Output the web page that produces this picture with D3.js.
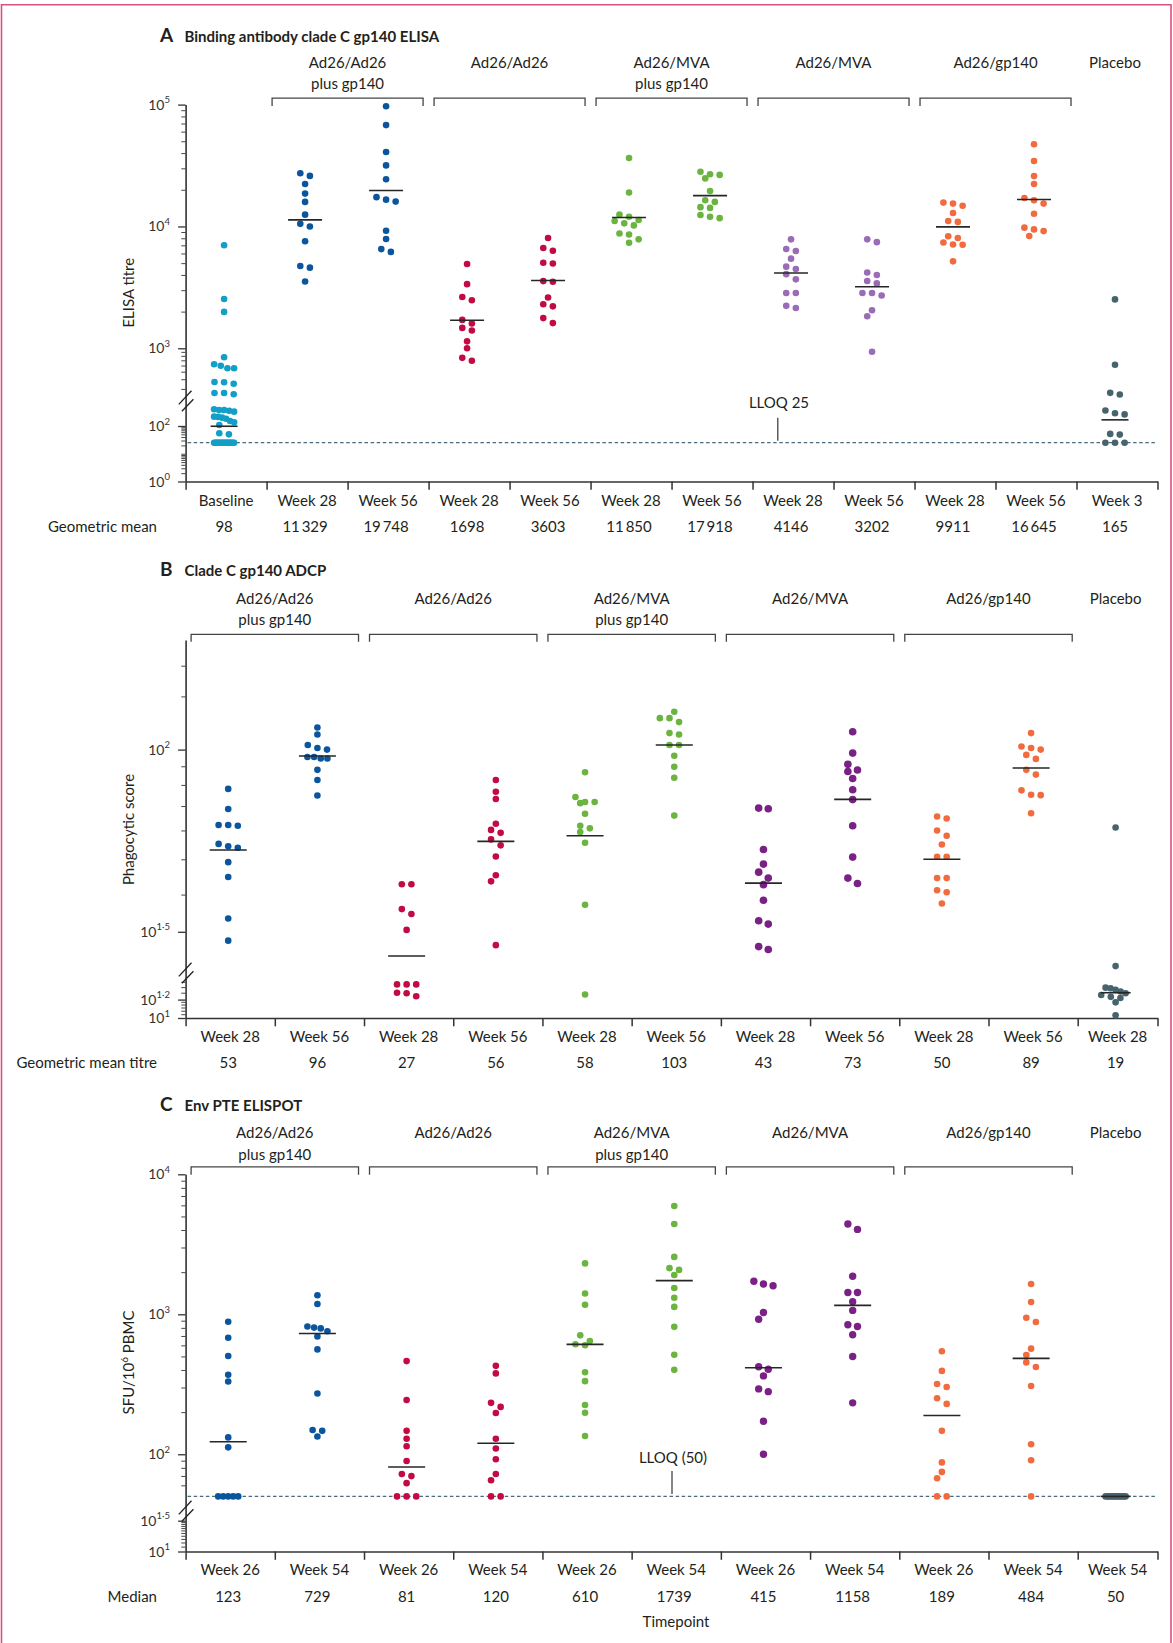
<!DOCTYPE html>
<html>
<head>
<meta charset="utf-8">
<script src="https://cdn.jsdelivr.net/npm/d3@7"></script>
<style>
  body { margin: 0; background: #fff; }
  svg { display: block; font-family: Lato, "Open Sans", sans-serif; }
</style>
</head>
<body>
<svg id="chart" width="1173" height="1643"></svg>
<script>
// ================= DATA =================
const groupNames = [["Ad26/Ad26", "plus gp140"], ["Ad26/Ad26"], ["Ad26/MVA", "plus gp140"], ["Ad26/MVA"], ["Ad26/gp140"]];
const placeboName = "Placebo";

// ---- Panel A: Binding antibody clade C gp140 ELISA (ELISA titre) ----
const categoriesA = ["Baseline", "Week 28", "Week 56", "Week 28", "Week 56", "Week 28", "Week 56", "Week 28", "Week 56", "Week 28", "Week 56", "Week 3"];
const a_baseline = [7000, 2540, 1990, 766, 622, 553, 553, 597, 368, 350, 365, 266, 256, 266,
  164, 161, 161, 157, 153, 132, 131, 128, 124, 116, 112, 103, 55, 50,
  25, 25, 25, 25, 25, 25, 25, 25, 25, 25, 25, 25, 25, 25, 25, 25, 25, 25, 25, 25];
const a_aag_w28 = [27300, 26000, 22300, 18600, 15900, 12500, 10500, 10000, 7570, 4730, 4590, 3530];
const a_aag_w56 = [97000, 67900, 40800, 31700, 24400, 17400, 16600, 16000, 9220, 7890, 6520, 6180];
const a_aa_w28 = [4920, 3360, 2640, 2480, 1710, 1600, 1470, 1400, 1140, 1000, 754, 693];
const a_aa_w56 = [8040, 6660, 6320, 5040, 4970, 3560, 3520, 2610, 2300, 2210, 1770, 1610];
const a_amg_w28 = [36500, 19000, 12500, 12000, 11300, 11100, 10600, 10200, 8750, 8580, 7840, 7340];
const a_amg_w56 = [28100, 26800, 26500, 24800, 19500, 16400, 15900, 14400, 14200, 12400, 12000, 11700];
const a_am_w28 = [7840, 6530, 6280, 5440, 4680, 4480, 4060, 3680, 2840, 2840, 2230, 2140];
const a_am_w56 = [7840, 7430, 4190, 4000, 3570, 3410, 2840, 2840, 2710, 2050, 1830, 904];
const a_ag_w28 = [15700, 15400, 14800, 12900, 11100, 10900, 8300, 8040, 7390, 7100, 7060, 5170];
const a_ag_w56 = [47300, 34400, 25900, 22300, 17100, 16400, 15400, 12700, 9780, 9460, 9160, 8360];
const a_placebo = [2520, 615, 267, 254, 158, 146, 141, 52, 49, 25, 25, 25];
const seriesA = [a_baseline, a_aag_w28, a_aag_w56, a_aa_w28, a_aa_w56, a_amg_w28, a_amg_w56, a_am_w28, a_am_w56, a_ag_w28, a_ag_w56, a_placebo];
const statLabelsA = ["98", "11\u2009329", "19\u2009748", "1698", "3603", "11\u2009850", "17\u2009918", "4146", "3202", "9911", "16\u2009645", "165"];
const statLinesA = [98, 11329, 19748, 1698, 3603, 11850, 17918, 4146, 3202, 9911, 16645, 120];
const yTicksA = [1, 100, 1000, 10000, 100000];
const yTickLabelsA = [["10", "0"], ["10", "2"], ["10", "3"], ["10", "4"], ["10", "5"]];
const yMinorA = [2, 3, 4, 5, 6, 7, 8, 9, 10, 20, 30, 40, 50, 60, 70, 80, 90, 300, 400, 500, 600, 700, 800, 900,
  2000, 3000, 4000, 5000, 6000, 7000, 8000, 9000, 20000, 30000, 40000, 50000, 60000, 70000, 80000, 90000];
const lloqA = 25;

// ---- Panel B: Clade C gp140 ADCP (Phagocytic score) ----
const categoriesB = ["Week 28", "Week 56", "Week 28", "Week 56", "Week 28", "Week 56", "Week 28", "Week 56", "Week 28", "Week 56", "Week 28"];
const b_aag_w28 = [78.0, 68.7, 62.1, 62.1, 61.8, 55.1, 54.3, 53.8, 49.1, 44.7, 34.4, 28.9];
const b_aag_w56 = [115, 110, 103, 101, 100, 95.4, 95.4, 94.5, 94.5, 88.0, 82.5, 74.8];
const b_aa_w28 = [42.7, 42.7, 36.5, 35.4, 32.0, 18.5, 18.5, 18.5, 17.0, 16.9, 16.4];
const b_aa_w56 = [82.5, 76.6, 73.2, 62.6, 60.2, 59.1, 56.7, 54.6, 50.9, 45.2, 43.5, 27.6];
const b_amg_w28 = [86.7, 74.1, 71.8, 71.8, 71.3, 66.7, 61.8, 60.8, 59.4, 55.5, 37.5, 16.7];
const b_amg_w56 = [127, 122, 122, 119, 111, 110, 103, 103, 96.2, 89.7, 83.7, 65.9];
const b_am_w28 = [69.1, 68.8, 53.2, 48.5, 46.1, 44.4, 42.6, 38.6, 33.9, 33.2, 27.2, 26.4];
const b_am_w56 = [112, 97.8, 91.1, 87.9, 87.1, 83.3, 77.6, 72.9, 61.8, 50.7, 44.4, 42.9];
const b_ag_w28 = [65.5, 64.7, 60.0, 58.0, 54.9, 50.8, 50.8, 44.4, 44.4, 41.1, 40.6, 37.8];
const b_ag_w56 = [111, 102, 101, 100, 96.7, 94.3, 88.0, 85.4, 77.3, 75.2, 75.0, 66.9];
const b_placebo = [61.1, 22.3, 17.9, 17.8, 17.5, 17.2, 16.9, 16.6, 16.3, 16.1, 14.8, 10.7];
const seriesB = [b_aag_w28, b_aag_w56, b_aa_w28, b_aa_w56, b_amg_w28, b_amg_w56, b_am_w28, b_am_w56, b_ag_w28, b_ag_w56, b_placebo];
const statLabelsB = ["53", "96", "27", "56", "58", "103", "43", "73", "50", "89", "19"];
const statLinesB = [53, 96, 24.7, 56, 58, 103, 43, 73, 50, 89, 17];
const yTicksB = [10, Math.pow(10, 1.2), Math.pow(10, 1.5), 100];
const yTickLabelsB = [["10", "1"], ["10", "1\u00b72"], ["10", "1\u00b75"], ["10", "2"]];
const yMinorB = [11, 12, 13, 14, 15, 17, 18, 19, 40, 50, 60, 70, 80, 90, 140, 170];

// ---- Panel C: Env PTE ELISPOT (SFU/10^6 PBMC) ----
const categoriesC = ["Week 26", "Week 54", "Week 26", "Week 54", "Week 26", "Week 54", "Week 26", "Week 54", "Week 26", "Week 54", "Week 54"];
const c_aag_w26 = [885, 679, 503, 370, 331, 132, 112, 50, 50, 50, 50, 50];
const c_aag_w54 = [1368, 1183, 817, 803, 793, 757, 695, 561, 272, 149, 147, 134];
const c_aa_w26 = [463, 244, 147, 129, 114, 89.6, 72.3, 69.8, 62.2, 50, 50, 50];
const c_aa_w54 = [428, 378, 233, 218, 197, 129, 110, 92.2, 72.3, 65.2, 50, 50];
const c_amg_w26 = [2310, 1406, 1169, 707, 644, 611, 601, 385, 333, 225, 198, 135];
const c_amg_w54 = [5940, 4420, 2570, 2135, 2075, 1910, 1542, 1312, 1129, 813, 514, 401];
const c_am_w26 = [1723, 1645, 1598, 1030, 922, 422, 405, 363, 293, 280, 172, 100];
const c_am_w54 = [4420, 4040, 1868, 1431, 1431, 1231, 1066, 841, 817, 715, 499, 233];
const c_ag_w26 = [545, 394, 318, 302, 251, 229, 147, 87.5, 74.8, 67.4, 50, 50];
const c_ag_w54 = [1645, 1225, 944, 881, 568, 512, 453, 420, 307, 118, 90.6, 50];
const c_placebo = [50, 50, 50, 50, 50, 50, 50, 50, 50, 50, 50, 50];
const seriesC = [c_aag_w26, c_aag_w54, c_aa_w26, c_aa_w54, c_amg_w26, c_amg_w54, c_am_w26, c_am_w54, c_ag_w26, c_ag_w54, c_placebo];
const statLabelsC = ["123", "729", "81", "120", "610", "1739", "415", "1158", "189", "484", "50"];
const statLinesC = [123, 729, 81, 120, 610, 1739, 415, 1158, 189, 484, 50];
const yTicksC = [10, Math.pow(10, 1.5), 100, 1000, 10000];
const yTickLabelsC = [["10", "1"], ["10", "1\u00b75"], ["10", "2"], ["10", "3"], ["10", "4"]];
const yMinorC = [12, 14, 16, 18, 20, 22, 24, 26, 28, 30,
  60, 70, 80, 90, 200, 300, 400, 500, 600, 700, 800, 900, 2000, 3000, 4000, 5000, 6000, 7000, 8000, 9000];
const lloqC = 50;

// ================= STYLE =================
const cCyan = "#129fc7", cBlue = "#0b559e", cRed = "#c20b43", cGreen = "#6bb43f",
      cLilac = "#9a6bb6", cPurple = "#7a2186", cOrange = "#f26b3f", cSlate = "#46636e";
const colorsA = [cCyan, cBlue, cBlue, cRed, cRed, cGreen, cGreen, cLilac, cLilac, cOrange, cOrange, cSlate];
const colorsBC = [cBlue, cBlue, cRed, cRed, cGreen, cGreen, cPurple, cPurple, cOrange, cOrange, cSlate];
const textCol = "#231f20", axisCol = "#333";

const svg = d3.select("#chart");

// pink frame
svg.append("path").attr("d", "M1.5,1643V4.8H1171V1643")
  .attr("fill", "none").attr("stroke", "#d9527f").attr("stroke-width", 1.6);

// Prism-like scatter layout: rows of nearby points spread symmetrically
function swarmOffsets(ys, r, spacing, maxOff, rowH) {
  const order = d3.range(ys.length).sort((a, b) => ys[a] - ys[b] || a - b);
  const rows = [];
  let cur = null;
  for (const i of order) {
    if (!cur || ys[i] - cur.y0 >= rowH) { cur = { y0: ys[i], items: [] }; rows.push(cur); }
    cur.items.push(i);
  }
  const off = new Array(ys.length).fill(0);
  const placed = [];
  for (const row of rows) {
    const m = row.items.length;
    const sp = m > 1 ? Math.min(spacing, (2 * maxOff) / (m - 1)) : 0;
    const base = row.items.map((_, j) => (j - (m - 1) / 2) * sp);
    let best = 0, bestD = -1;
    for (const s of [0, -spacing / 2, spacing / 2]) {
      let dmin = Infinity;
      row.items.forEach((i, j) => {
        for (const p of placed) dmin = Math.min(dmin, Math.hypot(p.x - base[j] - s, p.y - ys[i]));
      });
      if (dmin >= 2 * r) { best = s; bestD = Infinity; break; }
      if (dmin > bestD) { bestD = dmin; best = s; }
    }
    row.items.forEach((i, j) => { off[i] = base[j] + best; placed.push({ x: off[i], y: ys[i] }); });
  }
  return off;
}

function drawPanel(cfg) {
  const g = svg.append("g");
  const n = cfg.categories.length;
  const x = d3.scaleLinear().domain(cfg.xDomain).range(cfg.xRange);
  const xc = i => (x(i) + x(i + 1)) / 2;
  const yl = d3.scaleLinear().domain(cfg.yKnots).range(cfg.yRange);
  const y = v => yl(Math.log10(v));
  const axisX = cfg.xRange[0];
  const baseY = cfg.yRange[0];

  // title
  const t = g.append("text").attr("y", cfg.titleY).attr("fill", textCol).attr("font-weight", 700);
  t.append("tspan").attr("x", 160).attr("font-size", 19).text(cfg.letter);
  t.append("tspan").attr("x", 184.5).attr("font-size", 15).text(cfg.title);

  // group labels + brackets
  cfg.groupSpans.forEach(([a, b], k) => {
    const x0 = x(a) + 5.5, x1 = x(b + 1) - 5.5;
    g.append("path")
      .attr("d", `M${x0},${cfg.bracketY + cfg.bracketDrop}V${cfg.bracketY}H${x1}V${cfg.bracketY + cfg.bracketDrop}`)
      .attr("fill", "none").attr("stroke", "#444").attr("stroke-width", 1.3);
    groupNames[k].forEach((line, j) => {
      g.append("text").attr("x", (x0 + x1) / 2).attr("y", j === 0 ? cfg.groupY1 : cfg.groupY2)
        .attr("text-anchor", "middle").attr("font-size", 15).attr("fill", textCol).text(line);
    });
  });
  g.append("text").attr("x", xc(n - 1) - 2).attr("y", cfg.groupY1).attr("text-anchor", "middle")
    .attr("font-size", 15).attr("fill", textCol).text(placeboName);

  // y-axis label
  const yt = g.append("text").attr("transform", `translate(133.5,${cfg.yLabelY}) rotate(-90)`)
    .attr("text-anchor", "middle").attr("font-size", 15).attr("fill", textCol);
  cfg.yLabel.forEach(part => {
    if (part.sup) yt.append("tspan").attr("dy", -6).attr("font-size", 10).text(part.t);
    else yt.append("tspan").attr("dy", part.down ? 6 : 0).text(part.t);
  });

  // LLOQ dashed line (behind dots)
  if (cfg.lloq) {
    g.append("line").attr("x1", axisX + 2).attr("x2", cfg.xRange[cfg.xRange.length - 1])
      .attr("y1", y(cfg.lloq)).attr("y2", y(cfg.lloq))
      .attr("stroke", "#4d6b7a").attr("stroke-width", 1.2).attr("stroke-dasharray", "3.5,2.6");
    g.append("line").attr("x1", cfg.lloqLineX).attr("x2", cfg.lloqLineX)
      .attr("y1", cfg.lloqLineY[0]).attr("y2", cfg.lloqLineY[1])
      .attr("stroke", "#333").attr("stroke-width", 1.2);
    g.append("text").attr("x", cfg.lloqLabelX).attr("y", cfg.lloqLabelY).attr("text-anchor", "middle")
      .attr("font-size", 15).attr("fill", textCol).text(cfg.lloqLabel);
  }

  // y axis: major + minor ticks
  const ya = g.append("g").attr("transform", `translate(${axisX},0)`);
  ya.call(d3.axisLeft(yl).tickValues(cfg.yTicks.map(Math.log10)).tickSize(7.5).tickSizeOuter(0).tickFormat(""));
  ya.selectAll("path,line").attr("stroke", axisCol).attr("stroke-width", 1.3);
  ya.select(".domain").attr("stroke-width", 1.6);
  ya.append("g").call(d3.axisLeft(yl).tickValues(cfg.yMinor.map(Math.log10)).tickSize(4.3).tickFormat(""))
    .call(s => s.select(".domain").remove())
    .call(s => s.selectAll("line").attr("stroke", axisCol).attr("stroke-width", 0.9));
  cfg.yTicks.forEach((v, k) => {
    const tt = g.append("text").attr("x", 170).attr("y", y(v) + 5).attr("text-anchor", "end")
      .attr("font-size", 14).attr("fill", "#333");
    tt.append("tspan").text(cfg.yTickLabels[k][0]);
    tt.append("tspan").attr("dy", -6.5).attr("font-size", 9.5).text(cfg.yTickLabels[k][1]);
  });

  // axis break marks
  const bx = axisX + 0.5, by = cfg.breakY;
  [[-7.3, 3.4, 5.4, -10.3], [-4.2, 10.3, 7.3, -1.7]].forEach(([dx1, dy1, dx2, dy2]) => {
    g.append("line").attr("x1", bx + dx1).attr("y1", by + dy1).attr("x2", bx + dx2).attr("y2", by + dy2)
      .attr("stroke", "#222").attr("stroke-width", 1.3);
  });

  // x axis
  const xa = g.append("g").attr("transform", `translate(0,${baseY})`);
  xa.call(d3.axisBottom(x).tickValues(d3.range(n + 1)).tickSize(8.3).tickSizeOuter(0).tickFormat(""));
  xa.selectAll("path,line").attr("stroke", axisCol).attr("stroke-width", 1.5);

  // x tick labels and stat row
  cfg.categories.forEach((c, i) => {
    g.append("text").attr("x", xc(i)).attr("y", cfg.tickLabelY).attr("text-anchor", "middle")
      .attr("font-size", 15).attr("fill", textCol).text(c);
    g.append("text").attr("x", xc(i) - 2).attr("y", cfg.statY).attr("text-anchor", "middle")
      .attr("font-size", 15).attr("fill", textCol).text(cfg.statLabels[i]);
  });
  g.append("text").attr("x", 157).attr("y", cfg.statY).attr("text-anchor", "end")
    .attr("font-size", 15).attr("fill", textCol).text(cfg.statName);

  // dots
  cfg.series.forEach((vals, i) => {
    const r = cfg.radius(i);
    const ys = vals.map(y);
    const offs = swarmOffsets(ys, r, 9.6, 10, 6);
    const cx0 = xc(i) - 2;
    g.append("g").selectAll("circle").data(vals).join("circle")
      .attr("cx", (d, k) => cx0 + offs[k]).attr("cy", d => y(d)).attr("r", r)
      .attr("fill", cfg.colors[i]);
  });

  // mean / median lines
  cfg.statLines.forEach((v, i) => {
    const w = cfg.lineWidth(i);
    const cx0 = xc(i) - 2;
    g.append("line").attr("x1", cx0 - w / 2).attr("x2", cx0 + w / 2).attr("y1", y(v)).attr("y2", y(v))
      .attr("stroke", "#262626").attr("stroke-width", 1.6);
  });
  return { x, y };
}

// Panel A
drawPanel({
  letter: "A", title: "Binding antibody clade C gp140 ELISA", titleY: 41.6,
  groupY1: 68.1, groupY2: 89.4, bracketY: 98.1, bracketDrop: 8,
  groupSpans: [[1, 2], [3, 4], [5, 6], [7, 8], [9, 10]],
  categories: categoriesA, series: seriesA, colors: colorsA,
  xDomain: [0, 12], xRange: [185.6, 1157.5],
  yKnots: [0, 2, 3, 5], yRange: [481.5, 426, 348.3, 104.6],
  yTicks: yTicksA, yTickLabels: yTickLabelsA, yMinor: yMinorA, breakY: 401,
  yLabel: [{ t: "ELISA titre" }], yLabelY: 292.7,
  lloq: lloqA, lloqLabel: "LLOQ 25", lloqLabelX: 779, lloqLabelY: 408.4, lloqLineX: 777.8, lloqLineY: [417.7, 440.8],
  tickLabelY: 505.7, statY: 532.3, statName: "Geometric mean",
  statLabels: statLabelsA, statLines: statLinesA,
  radius: () => 3.3,
  lineWidth: i => (i === 0 || i === 11) ? 27 : 34
});

// Panel B
drawPanel({
  letter: "B", title: "Clade C gp140 ADCP", titleY: 576.4,
  groupY1: 604, groupY2: 625.4, bracketY: 634.3, bracketDrop: 7.5,
  groupSpans: [[0, 1], [2, 3], [4, 5], [6, 7], [8, 9]],
  categories: categoriesB, series: seriesB, colors: colorsBC,
  xDomain: [0, 10, 11], xRange: [185.6, 1077.7, 1157.5],
  yKnots: [1, 1.2, 1.5, 2, Math.log10(200)], yRange: [1018, 999.6, 931.8, 749.6, 640],
  yTicks: yTicksB, yTickLabels: yTickLabelsB, yMinor: yMinorB, breakY: 973,
  yLabel: [{ t: "Phagocytic score" }], yLabelY: 829.5,
  lloq: null,
  tickLabelY: 1041.8, statY: 1067.5, statName: "Geometric mean titre",
  statLabels: statLabelsB, statLines: statLinesB,
  radius: i => (i === 6 || i === 7) ? 3.8 : 3.3,
  lineWidth: i => i === 10 ? 30 : 37
});

// Panel C
drawPanel({
  letter: "C", title: "Env PTE ELISPOT", titleY: 1110.6,
  groupY1: 1137.7, groupY2: 1159.6, bracketY: 1166.9, bracketDrop: 7.8,
  groupSpans: [[0, 1], [2, 3], [4, 5], [6, 7], [8, 9]],
  categories: categoriesC, series: seriesC, colors: colorsBC,
  xDomain: [0, 10, 11], xRange: [185.6, 1077.7, 1157.5],
  yKnots: [1, 1.5, Math.log10(50), 4], yRange: [1551.5, 1520.7, 1496.4, 1174.3],
  yTicks: yTicksC, yTickLabels: yTickLabelsC, yMinor: yMinorC, breakY: 1511,
  yLabel: [{ t: "SFU/10" }, { t: "6", sup: true }, { t: " PBMC", down: true }], yLabelY: 1362.5,
  lloq: lloqC, lloqLabel: "LLOQ (50)", lloqLabelX: 673, lloqLabelY: 1463, lloqLineX: 672, lloqLineY: [1471, 1494],
  tickLabelY: 1575, statY: 1602.3, statName: "Median",
  statLabels: statLabelsC, statLines: statLinesC,
  radius: i => (i === 6 || i === 7) ? 3.7 : 3.3,
  lineWidth: i => i === 10 ? 30 : 37
});

svg.append("text").attr("x", 676).attr("y", 1627).attr("text-anchor", "middle")
  .attr("font-size", 15).attr("fill", textCol).text("Timepoint");
</script>
</body>
</html>
